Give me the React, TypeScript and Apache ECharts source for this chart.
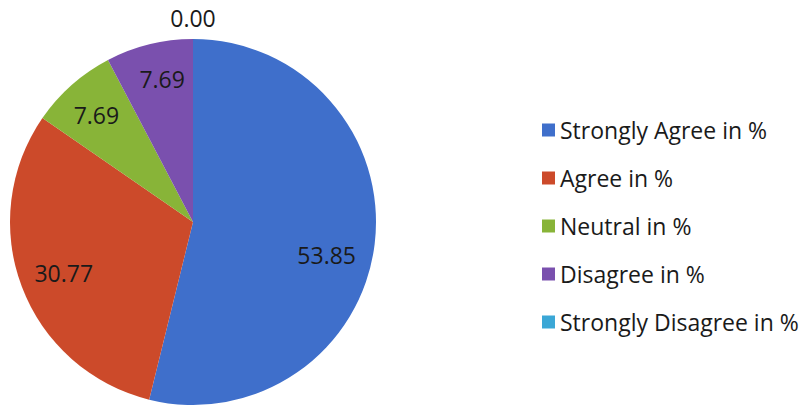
import React, { useEffect, useRef } from "react";
import * as echarts from "echarts";

const categories = [
  "Strongly Agree in %",
  "Agree in %",
  "Neutral in %",
  "Disagree in %",
  "Strongly Disagree in %",
];
const values = [53.85, 30.77, 7.69, 7.69, 0.0];
const colors = ["#3F6FCB", "#CC4A2A", "#88B438", "#7A50AE", "#3BA7D6"];
const labelOffsets = [[-11, 15], [7, -1], [0, 2], [4, -1], [0, 0]];

const FONT = "'Open Sans', sans-serif";

export default function App() {
  const ref = useRef<HTMLDivElement>(null);
  useEffect(() => {
    if (!ref.current) return;
    const chart = echarts.init(ref.current, undefined, { renderer: "svg" });
    const R = 183;
    const center = [193, 222];
    const baseData = categories.map((name, i) => ({
      name,
      value: values[i],
      itemStyle: { color: colors[i] },
    }));
    chart.setOption({
      animation: false,
      backgroundColor: "#ffffff",
      legend: {
        orient: "vertical",
        left: 537,
        top: 113,
        itemWidth: 13,
        itemHeight: 13,
        itemGap: 24,
        icon: "rect",
        data: categories,
        textStyle: {
          fontFamily: FONT,
          fontSize: 23,
          lineHeight: 24,
          color: "#1a1a1a",
        },
      },
      series: [
        {
          type: "pie",
          center,
          radius: [0, R],
          startAngle: 90,
          clockwise: true,
          label: { show: false },
          labelLine: { show: false },
          emphasis: { disabled: true },
          data: baseData,
        },
        {
          type: "pie",
          center,
          radius: [R * 0.56, R],
          startAngle: 90,
          clockwise: true,
          silent: true,
          legendHoverLink: false,
          itemStyle: { color: "rgba(0,0,0,0)" },
          label: {
            show: true,
            position: "inside",
            fontFamily: FONT,
            fontSize: 23,
            color: "#1a1a1a",
            formatter: (p: any) => (p.value > 0 ? p.value.toFixed(2) : ""),
          },
          labelLine: { show: false },
          emphasis: { disabled: true },
          data: categories.map((name, i) => ({
            name: name + " ",
            value: values[i],
            label: { offset: labelOffsets[i] },
          })),
        },
        {
          type: "pie",
          center,
          radius: [R, R + 36],
          startAngle: 90,
          clockwise: true,
          silent: true,
          legendHoverLink: false,
          itemStyle: { color: "rgba(0,0,0,0)" },
          label: {
            show: true,
            position: "inside",
            fontFamily: FONT,
            fontSize: 23,
            color: "#1a1a1a",
            formatter: (p: any) => (p.value === 0 ? p.value.toFixed(2) : ""),
          },
          labelLine: { show: false },
          emphasis: { disabled: true },
          data: categories.map((name, i) => ({ name: name + "  ", value: values[i] })),
        },
      ],
    });
    return () => chart.dispose();
  }, []);
  return (
    <div
      ref={ref}
      style={{ position: "fixed", left: 0, top: 0, width: 801, height: 406 }}
    />
  );
}
